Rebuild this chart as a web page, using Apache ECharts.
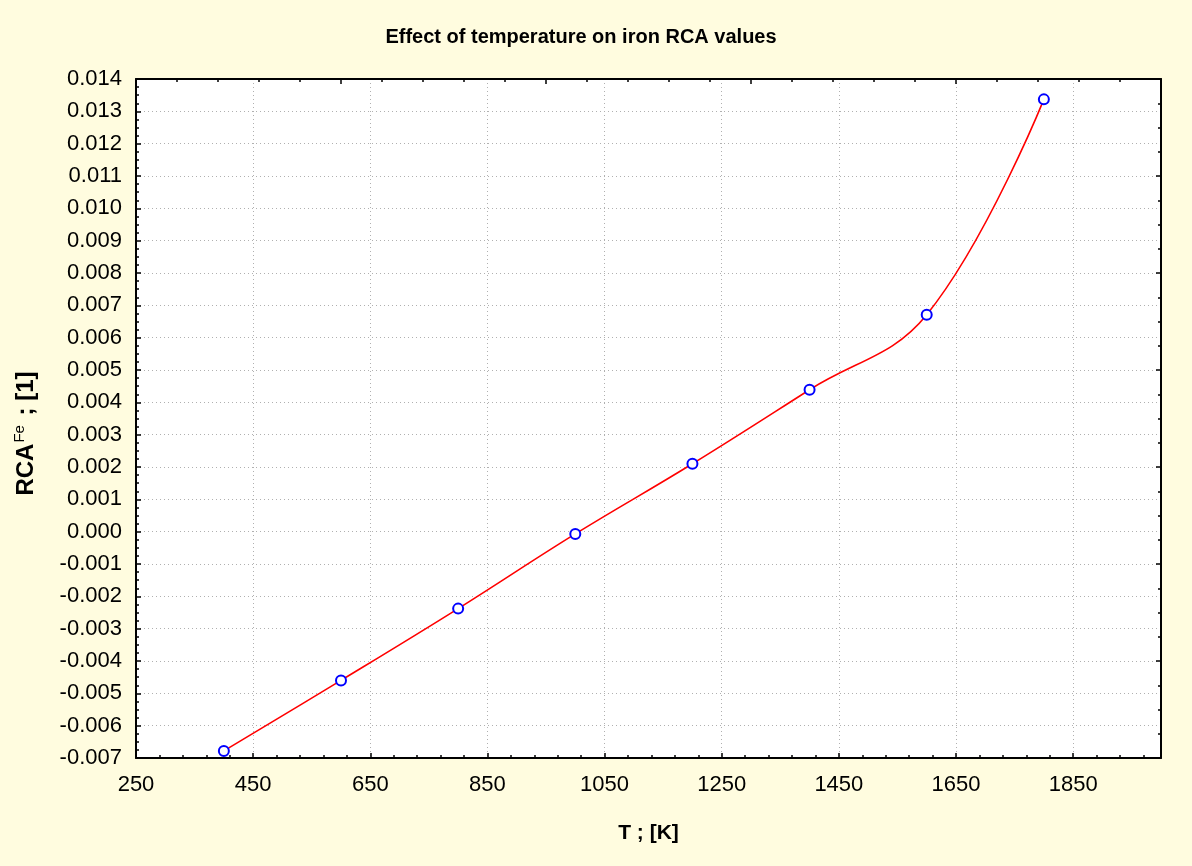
<!DOCTYPE html>
<html>
<head>
<meta charset="utf-8">
<script src="https://cdn.jsdelivr.net/npm/echarts@6/dist/echarts.min.js"></script>
<style>
    html, body { margin: 0; padding: 0; background: #fffcdf; }
    #main { width: 1192px; height: 866px; }
</style>
</head>
<body>
<div id="main"></div>
<script>
// data
const temps = [400, 600, 800, 1000, 1200, 1400, 1600, 1800];
const rcaFe = [-0.00678, -0.0046, -0.00238, -0.00007, 0.0021, 0.00439, 0.00671, 0.01337];

// axis ranges
const tMin = 250, tMax = 2000, tStep = 200;
const yMin = -0.007, yMax = 0.014, yStep = 0.001;

const chart = echarts.init(document.getElementById("main"));
const font = "'Liberation Sans', Arial, sans-serif";

// x axis starts at 250, so plot T - 250 to keep ticks aligned on min
const seriesData = temps.map((t, i) => [t - tMin, rcaFe[i]]);

function fmtY(v) {
    let s = (Math.round(v * 1000) / 1000).toFixed(3);
    if (s === "-0.000") s = "0.000";
    return s;
}

const inTick = { show: true, inside: true, length: 5, lineStyle: { color: "#000", width: 1.5 } };
const inMinor = { show: true, length: 3, lineStyle: { color: "#000", width: 1.5 } };
const blackLine = { show: true, onZero: false, lineStyle: { color: "#000", width: 2 } };
const dotted = { show: true, lineStyle: { color: "#b0b0b0", width: 1, type: [1, 3] } };

let option = {
    backgroundColor: "#fffcdf",
    animation: false,
    title: {
        text: "Effect of temperature on iron RCA values",
        left: 576,
        top: 22,
        textAlign: "center",
        textStyle: { fontFamily: font, fontSize: 20, fontWeight: "bold", color: "#000" }
    },
    grid: { left: 136, right: 31, top: 79, bottom: 108, containLabel: false, show: true, backgroundColor: "#fff", borderWidth: 0 },
    xAxis: [
        {
            type: "value",
            min: 0, max: tMax - tMin, interval: tStep,
            name: "T ; [K]",
            nameLocation: "middle",
            nameGap: 65,
            nameTextStyle: { fontFamily: font, fontSize: 21, fontWeight: "bold", color: "#000" },
            axisLine: blackLine,
            axisTick: inTick,
            minorTick: Object.assign({ splitNumber: 5 }, inMinor),
            splitLine: dotted,
            axisLabel: {
                margin: 16,
                color: "#000",
                fontFamily: font,
                fontSize: 22,
                formatter: (v) => String(v + tMin),
                showMaxLabel: false
            }
        },
        {
            type: "value",
            position: "top",
            min: 0, max: 25, interval: 5,
            axisLine: blackLine,
            axisTick: inTick,
            minorTick: Object.assign({ splitNumber: 5 }, inMinor),
            splitLine: { show: false },
            axisLabel: { show: false }
        }
    ],
    yAxis: [
        {
            type: "value",
            min: yMin, max: yMax, interval: yStep,
            name: "{b|RCA}{sup|Fe}{b| ; [1]}",
            nameLocation: "middle",
            nameRotate: 90,
            nameGap: 96,
            nameTextStyle: {
                padding: [0, 30, 0, 0],
                rich: {
                    b: { fontFamily: font, fontSize: 24, fontWeight: "bold", color: "#000", lineHeight: 28 },
                    sup: { fontFamily: font, fontSize: 15, color: "#000", lineHeight: 15, verticalAlign: "top", padding: [0, 3, 0, 1] }
                }
            },
            axisLine: blackLine,
            axisTick: inTick,
            minorTick: Object.assign({ splitNumber: 4 }, inMinor),
            splitLine: dotted,
            axisLabel: {
                margin: 14,
                color: "#000",
                fontFamily: font,
                fontSize: 22,
                formatter: fmtY
            }
        },
        {
            type: "value",
            position: "right",
            min: 0, max: 28, interval: 4,
            axisLine: blackLine,
            axisTick: inTick,
            minorTick: Object.assign({ splitNumber: 4 }, inMinor),
            splitLine: { show: false },
            axisLabel: { show: false }
        }
    ],
    series: [
        {
            type: "line",
            xAxisIndex: 0,
            yAxisIndex: 0,
            data: seriesData,
            smooth: 0.4,
            symbol: "emptyCircle",
            symbolSize: 10,
            lineStyle: { color: "#ff0000", width: 1.6 },
            itemStyle: { color: "#0000ff", borderColor: "#0000ff", borderWidth: 1.5 },
            z: 3
        }
    ]
};
chart.setOption(option);
</script>
</body>
</html>
